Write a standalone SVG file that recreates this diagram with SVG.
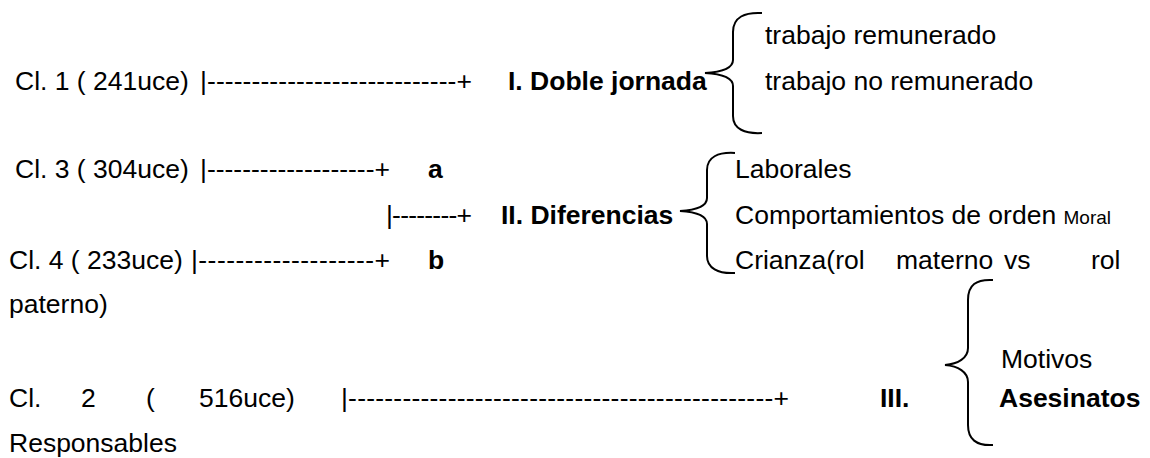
<svg xmlns="http://www.w3.org/2000/svg" width="1150" height="458" viewBox="0 0 1150 458">
<style>
text{font-family:"Liberation Sans",Arial,Helvetica,sans-serif;font-size:26.5px;fill:#000}
.b{font-weight:bold}
.sm{font-size:19px}
.br{fill:none;stroke:#000;stroke-width:2}
</style>
<rect width="1150" height="458" fill="#fff"/>
<g id="cl1">
<text x="15" y="90">Cl. 1 ( 241uce)</text>
<text x="200" y="90" textLength="272">|----------------------------+</text>
</g>
<g id="cl3">
<text x="15" y="178">Cl. 3 ( 304uce)</text>
<text x="200" y="178" textLength="190">|-------------------+</text>
<text class="b" x="428" y="178">a</text>
</g>
<g id="join">
<text x="386" y="224" textLength="86">|--------+</text>
</g>
<g id="cl4">
<text x="9" y="269">Cl. 4 ( 233uce)</text>
<text x="191" y="269" textLength="199">|-------------------+</text>
<text class="b" x="428" y="269">b</text>
</g>
<g id="cl2">
<text x="9" y="407">Cl.</text>
<text x="81" y="407">2</text>
<text x="146" y="407">(</text>
<text x="199" y="407">516uce)</text>
<text x="341" y="407" textLength="448">|-----------------------------------------------+</text>
</g>
<g id="doble-jornada">
<text class="b" x="508" y="90">I. Doble jornada</text>
<text x="765" y="44">trabajo remunerado</text>
<text x="765" y="90">trabajo no remunerado</text>
</g>
<g id="diferencias">
<text class="b" x="501" y="224">II. Diferencias</text>
<text x="735" y="178">Laborales</text>
<text x="735" y="224">Comportamientos de orden <tspan class="sm">Moral</tspan></text>
<text x="735" y="269">Crianza(rol</text>
<text x="896" y="269">materno</text>
<text x="1004" y="269">vs</text>
<text x="1091" y="269">rol</text>
<text x="9" y="313">paterno)</text>
</g>
<g id="asesinatos">
<text class="b" x="880" y="407">III.</text>
<text x="1001" y="368">Motivos</text>
<text class="b" x="999" y="407">Asesinatos</text>
<text x="9" y="452">Responsables</text>
</g>
<g id="connectors">
<path class="br" d="M762,13 C745,12 733,17 733,32 L733,60 C733,68 722,72 705,73 C722,74 733,78 733,86 L733,116 C733,129 745,134 762,133"/>
<path class="br" d="M735,153 C718,152 707,157 707,170 L707,198 C707,206 697,210 680,211 C697,212 707,216 707,224 L707,256 C707,268 718,274 735,273"/>
<path class="br" d="M993,280 C976,279 968,285 968,300 L968,348 C968,358 958,364 945,365 C958,366 968,372 968,382 L968,425 C968,439 976,446 993,445"/>
</g>
</svg>
